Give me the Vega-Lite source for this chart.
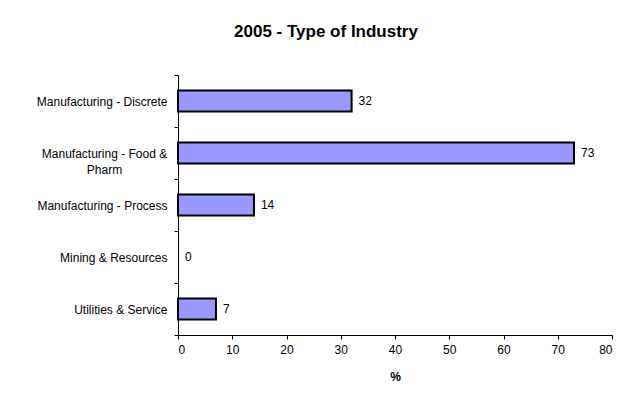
{
  "$schema": "https://vega.github.io/schema/vega-lite/v6.json",
  "autosize": "none",
  "width": 434,
  "height": 260,
  "padding": {"left": 178, "top": 75, "right": 30, "bottom": 72},
  "background": "white",
  "title": {
    "text": "2005 - Type of Industry",
    "font": "Liberation Sans",
    "fontSize": 17,
    "fontWeight": "bold",
    "color": "black",
    "anchor": "middle",
    "baseline": "alphabetic",
    "dx": -69,
    "offset": 15
  },
  "data": {
    "values": [
      {"industry": "Manufacturing - Discrete", "pct": 32},
      {"industry": "Manufacturing - Food & Pharm", "pct": 73},
      {"industry": "Manufacturing - Process", "pct": 14},
      {"industry": "Mining & Resources", "pct": 0},
      {"industry": "Utilities & Service", "pct": 7}
    ]
  },
  "config": {
    "view": {"stroke": null},
    "font": "Liberation Sans"
  },
  "encoding": {
    "y": {
      "field": "industry",
      "type": "nominal",
      "sort": null,
      "scale": {"paddingInner": 0, "paddingOuter": 0},
      "axis": {
        "title": null,
        "tickBand": "extent",
        "domainColor": "black",
        "tickColor": "black",
        "tickSize": 4,
        "labelColor": "black",
        "labelFontSize": 12,
        "labelFont": "Liberation Sans",
        "labelLimit": 300,
        "labelLineHeight": 16,
        "labelExpr": "datum.value == 'Manufacturing - Food & Pharm' ? ['Manufacturing - Food &', 'Pharm'] : datum.value",
        "labelAlign": {"condition": {"test": "datum.value == 'Manufacturing - Food & Pharm'", "value": "center"}, "value": "right"},
        "labelPadding": {"condition": {"test": "datum.value == 'Manufacturing - Food & Pharm'", "value": 70}, "value": 7}
      }
    },
    "x": {
      "field": "pct",
      "type": "quantitative",
      "scale": {"domain": [0, 80], "nice": false},
      "axis": {
        "title": "%",
        "titleFont": "Liberation Sans",
        "titleFontWeight": "bold",
        "titleFontSize": 12,
        "titleColor": "black",
        "titlePadding": 16,
        "values": [0, 10, 20, 30, 40, 50, 60, 70, 80],
        "grid": false,
        "domainColor": "black",
        "tickColor": "black",
        "tickSize": 4,
        "labelColor": "black",
        "labelFont": "Liberation Sans",
        "labelFontSize": 12,
        "labelPadding": 5
      }
    }
  },
  "layer": [
    {
      "mark": {"type": "bar", "fill": "#9999FF", "stroke": "black", "height": {"band": 0.4}},
      "encoding": {
        "strokeWidth": {"condition": {"test": "datum.pct == 0", "value": 0}, "value": 2}
      }
    },
    {
      "mark": {"type": "text", "align": "left", "baseline": "middle", "dx": 7, "fontSize": 12, "font": "Liberation Sans", "color": "black"},
      "encoding": {"text": {"field": "pct", "type": "quantitative"}}
    }
  ]
}
